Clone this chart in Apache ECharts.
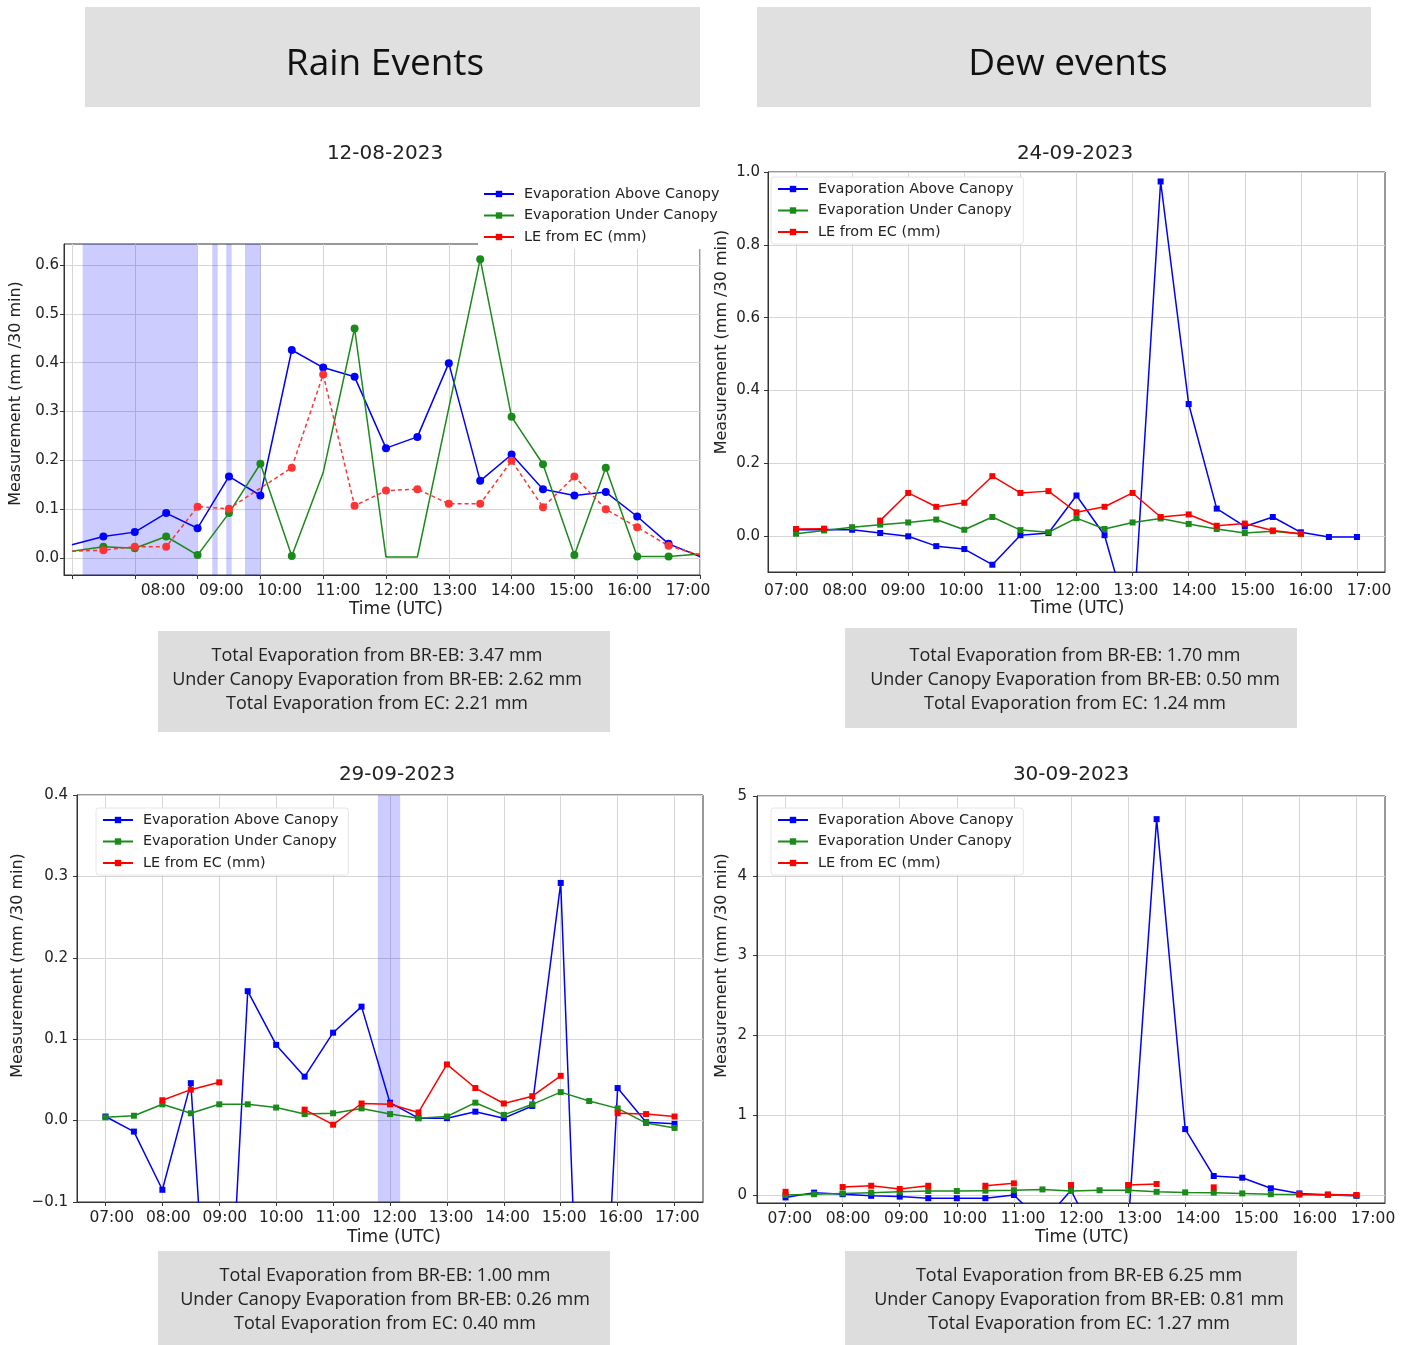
<!DOCTYPE html>
<html><head><meta charset="utf-8">
<script src="https://cdn.jsdelivr.net/npm/echarts@6/dist/echarts.min.js"></script>
<style>html,body{margin:0;padding:0;background:#fff}#c{width:1410px;height:1345px}</style>
</head><body><div id="c"></div>
<script>
// ---------- DATA ----------
const times = ['07:00','07:30','08:00','08:30','09:00','09:30','10:00','10:30','11:00','11:30','12:00','12:30','13:00','13:30','14:00','14:30','15:00','15:30','16:00','16:30','17:00'];
const seriesNames = ['Evaporation Above Canopy','Evaporation Under Canopy','LE from EC (mm)'];

// 12-08-2023 (rain)
const rainAbove = [0.027,0.044,0.053,0.092,0.061,0.167,0.128,0.426,0.390,0.371,0.225,0.248,0.399,0.158,0.212,0.141,0.128,0.135,0.085,0.029,0.003];
const rainUnder = [0.014,0.023,0.020,0.044,0.006,0.092,0.193,0.004,0.175,0.470,0.002,0.002,null,0.612,0.289,0.192,0.006,0.185,0.003,0.003,0.008];
const rainEC    = [0.014,0.016,0.023,0.023,0.105,0.101,null,0.185,0.376,0.107,0.138,0.141,0.111,0.111,0.199,0.104,0.167,0.100,0.063,0.025,0.006];
const rainAboveNoMark = [0,20];
const rainUnderNoMark = [0,8,10,11,20];
const rainECNoMark = [0,20];
const rainPeriods1 = [[7.17,8.995],[9.234,9.32],[9.457,9.543],[9.755,10.005]];

// 24-09-2023 (dew)
const dew1Above = [0.018,0.019,0.018,0.009,0.000,-0.027,-0.035,-0.078,0.003,0.009,0.112,0.003,-0.27,0.974,0.363,0.076,0.027,0.053,0.011,-0.002,-0.002];
const dew1Under = [0.007,0.016,0.025,0.032,0.038,0.046,0.018,0.053,0.017,0.011,0.050,0.020,0.038,0.049,0.034,0.020,0.009,0.014,0.006,null,null];
const dew1EC    = [0.020,0.021,null,0.043,0.119,0.081,0.092,0.165,0.119,0.124,0.066,0.081,0.119,0.053,0.060,0.029,0.035,0.016,0.007,null,null];

// 29-09-2023
const dew2Above = [0.005,-0.0135,-0.085,0.046,-0.50,0.159,0.093,0.054,0.108,0.140,0.022,0.003,0.003,0.011,0.003,0.018,0.292,-0.63,0.040,-0.002,-0.004];
const dew2Under = [0.004,0.006,0.020,0.009,0.020,0.020,0.016,0.008,0.009,0.015,0.008,0.003,0.005,0.022,0.007,0.020,0.035,0.024,0.015,-0.003,-0.009];
const dew2EC    = [null,null,0.025,0.038,0.047,null,null,0.0135,-0.005,0.021,0.020,0.010,0.069,0.040,0.021,0.030,0.055,null,0.009,0.008,0.005];
const rainPeriods2 = [[11.786,12.179]];

// 30-09-2023
const dew3Above = [-0.03,0.03,0.01,-0.01,-0.02,-0.04,-0.04,-0.04,0.0,-0.35,0.06,-0.65,-0.40,4.71,0.826,0.238,0.217,0.084,0.02,0.0,-0.01];
const dew3Under = [0.0,0.01,0.02,0.03,0.04,0.05,0.05,0.055,0.06,0.07,0.05,0.06,0.06,0.04,0.033,0.03,0.02,0.01,0.008,0.0,-0.005];
const dew3EC    = [0.04,null,0.10,0.116,0.075,0.116,null,0.116,0.146,null,0.125,null,0.125,0.138,null,0.096,null,null,0.008,0.008,0.0];

// tick labels
const xTickTimes = ['07:00','08:00','09:00','10:00','11:00','12:00','13:00','14:00','15:00','16:00','17:00'];
const xLabelsRain = ['08:00','09:00','10:00','11:00','12:00','13:00','14:00','15:00','16:00','17:00'];
const xLabelsDew = ['07:00','08:00','09:00','10:00','11:00','12:00','13:00','14:00','15:00','16:00','17:00'];
const yTicks1 = [0,0.1,0.2,0.3,0.4,0.5,0.6];
const yTicks2 = [0,0.2,0.4,0.6,0.8,1.0];
const yTicks3 = [-0.1,0,0.1,0.2,0.3,0.4];
const yTicks4 = [0,1,2,3,4,5];

const chartTitles = ['12-08-2023','24-09-2023','29-09-2023','30-09-2023'];
const headers = ['Rain Events','Dew events'];
const summary1 = ['Total Evaporation from BR-EB: 3.47 mm','Under Canopy Evaporation from BR-EB: 2.62 mm','Total Evaporation from EC: 2.21 mm'];
const summary2 = ['Total Evaporation from BR-EB: 1.70 mm','Under Canopy Evaporation from BR-EB: 0.50 mm','Total Evaporation from EC: 1.24 mm'];
const summary3 = ['Total Evaporation from BR-EB: 1.00 mm','Under Canopy Evaporation from BR-EB: 0.26 mm','Total Evaporation from EC: 0.40 mm'];
const summary4 = ['Total Evaporation from BR-EB 6.25 mm','Under Canopy Evaporation from BR-EB: 0.81 mm','Total Evaporation from EC: 1.27 mm'];

// ---------- HELPERS ----------
const F = '"DejaVu Sans", sans-serif';
const FO = '"Open Sans", sans-serif';
const TXT = '#222';
const toH = s => { const p = s.split(':').map(Number); return p[0] + p[1]/60; };
const hours = times.map(toH);
const fmtH = v => { const h = Math.floor(v + 1e-6), m = Math.round((v - h) * 60); return String(h).padStart(2,'0') + ':' + String(m).padStart(2,'0'); };
const BLUE = '#0000ff', GREEN = '#1a8a1a', RED = '#ff0000', RED1 = '#ff3333';

function mkData(vals, hide) {
  hide = hide || [];
  return times.map((t, i) => {
    const v = vals[i];
    const it = { value: [hours[i], v == null ? '-' : v] };
    if (hide.indexOf(i) >= 0) it.symbol = 'none';
    return it;
  });
}
function mkSeries(name, vals, grid, color, extra) {
  return Object.assign({
    type: 'line', name, xAxisIndex: grid * 2, yAxisIndex: grid,
    data: mkData(vals, extra && extra.hide),
    color, symbol: 'rect', symbolSize: 6, showSymbol: true, showAllSymbol: true,
    lineStyle: { width: 1.5, color }, itemStyle: { color },
    emphasis: { disabled: true }, clip: true, z: 3, animation: false
  }, extra && extra.opt);
}
function shade(grid, periods) {
  return {
    type: 'line', xAxisIndex: grid * 2, yAxisIndex: grid, data: [], silent: true, z: 1,
    markArea: { silent: true, itemStyle: { color: 'rgba(0,0,255,0.2)' },
      data: periods.map(p => [{ xAxis: p[0] }, { xAxis: p[1] }]) }
  };
}
const axisLineStyle = { color: '#333', width: 1 };
const splitStyle = { color: '#d6d6d6', width: 1 };
const hourTicks = xTickTimes.map(toH);

function xPrimary(grid, min, max, gap, shift) {
  return {
    type: 'value', gridIndex: grid, min, max, position: 'bottom',
    name: 'Time (UTC)', nameLocation: 'middle', nameGap: gap,
    nameTextStyle: { fontSize: 17, fontFamily: F, color: TXT, padding: [0, 0, 0, shift * 2] },
    axisLine: { show: true, onZero: false, lineStyle: axisLineStyle },
    axisTick: { show: true, length: 4, customValues: hourTicks, lineStyle: axisLineStyle },
    axisLabel: { show: false, customValues: hourTicks },
    splitLine: { show: true, lineStyle: splitStyle }
  };
}
function xLabelAxis(grid, min, max, labels, margin) {
  return {
    type: 'value', gridIndex: grid, min, max, position: 'bottom', offset: 0,
    axisLine: { show: false, onZero: false }, axisTick: { show: false }, splitLine: { show: false },
    axisLabel: { customValues: labels.map(toH), formatter: v => fmtH(v), fontSize: 15.5, fontFamily: F, color: TXT, margin }
  };
}
function yAx(grid, min, max, ticks, fmt, gap, shift, margin) {
  return {
    type: 'value', gridIndex: grid, min, max,
    name: 'Measurement (mm /30 min)', nameLocation: 'middle', nameGap: gap,
    nameTextStyle: { fontSize: 16, fontFamily: F, color: TXT, padding: [0, 0, 0, shift * 2] },
    axisLine: { show: true, onZero: false, lineStyle: axisLineStyle },
    axisTick: { show: true, length: 4, customValues: ticks, lineStyle: axisLineStyle },
    axisLabel: { customValues: ticks, formatter: fmt, fontSize: 15, fontFamily: F, color: TXT, margin },
    splitLine: { show: true, lineStyle: splitStyle }
  };
}
const fmt1 = v => (v < 0 ? '\u2212' : '') + Math.abs(v).toFixed(1);
const fmt0 = v => String(Math.round(v));

function legend(left, top, padRight, framed) {
  return {
    data: seriesNames, orient: 'vertical', left, top,
    itemWidth: 30, itemHeight: 8, itemGap: 7.5, selectedMode: false,
    textStyle: { fontSize: 14.4, fontFamily: F, color: TXT, padding: [0, 0, 0, 5] },
    backgroundColor: framed ? '#ffffff' : 'transparent', borderColor: '#e6e6e6', borderWidth: framed ? 1 : 0, borderRadius: 3,
    padding: [5, padRight, 5, 6], z: 10
  };
}
function textCenter(text, x, y, font, fill) {
  return { type: 'text', z: 20, silent: true,
    style: { text, x, y, font, fill: fill || TXT, align: 'center', verticalAlign: 'middle', textAlign: 'center', textVerticalAlign: 'middle' } };
}
function rect(x, y, w, h, fill, z) {
  return { type: 'rect', z: z || 15, silent: true, shape: { x, y, width: w, height: h }, style: { fill } };
}
function summaryBox(x, y, w, h, lines, cx, y0) {
  const out = [rect(x, y, w, h, '#dddddd')];
  lines.forEach((l, i) => out.push(textCenter(l, cx, y0 + i * 24, '18px ' + FO)));
  return out;
}

// ---------- OPTION ----------
const gridBase = { show: true, borderColor: '#333', borderWidth: 1, backgroundColor: 'transparent', containLabel: false };
const option = {
  animation: false,
  backgroundColor: '#ffffff',
  grid: [
    Object.assign({ left: 64, top: 244, width: 636, height: 331 }, gridBase),
    Object.assign({ left: 768, top: 172, width: 617, height: 400 }, gridBase),
    Object.assign({ left: 77, top: 795, width: 626, height: 407 }, gridBase),
    Object.assign({ left: 757, top: 796, width: 628, height: 407 }, gridBase)
  ],
  xAxis: [
    xPrimary(0, 6.873, 17.0, 26, 14), xLabelAxis(0, 6.303, 17.206, xLabelsRain, 8),
    xPrimary(1, 6.5, 17.5, 28, 1), xLabelAxis(1, 6.684, 17.275, xLabelsDew, 11),
    xPrimary(2, 6.5, 17.5, 27, 4), xLabelAxis(2, 6.386, 17.455, xLabelsDew, 8),
    xPrimary(3, 6.5, 17.5, 26, 11), xLabelAxis(3, 6.439, 17.206, xLabelsDew, 8)
  ],
  yAxis: [
    yAx(0, -0.0348, 0.643, yTicks1, fmt1, 40, 16, 5),
    yAx(1, -0.098, 1.0, yTicks2, fmt1, 38, 30, 8),
    yAx(2, -0.1, 0.4, yTicks3, fmt1, 51, 33, 9),
    yAx(3, -0.1, 5.0, yTicks4, fmt0, 27, 34, 10)
  ],
  legend: [legend(477, 182, 1, false), legend(771, 177, 10, true), legend(96, 808, 10, true), legend(771, 808, 10, true)],
  series: [
    mkSeries(seriesNames[0], dew1Above, 1, BLUE),
    mkSeries(seriesNames[1], dew1Under, 1, GREEN),
    mkSeries(seriesNames[2], dew1EC, 1, RED),
    shade(2, rainPeriods2),
    mkSeries(seriesNames[0], dew2Above, 2, BLUE),
    mkSeries(seriesNames[1], dew2Under, 2, GREEN),
    mkSeries(seriesNames[2], dew2EC, 2, RED),
    mkSeries(seriesNames[0], dew3Above, 3, BLUE),
    mkSeries(seriesNames[1], dew3Under, 3, GREEN),
    mkSeries(seriesNames[2], dew3EC, 3, RED),
    shade(0, rainPeriods1),
    mkSeries(seriesNames[0], rainAbove, 0, BLUE, { hide: rainAboveNoMark, opt: { symbol: 'circle', symbolSize: 8 } }),
    mkSeries(seriesNames[1], rainUnder, 0, GREEN, { hide: rainUnderNoMark, opt: { symbol: 'circle', symbolSize: 8, connectNulls: true } }),
    mkSeries(seriesNames[2], rainEC, 0, RED1, { hide: rainECNoMark, opt: { symbol: 'circle', symbolSize: 8, connectNulls: true, lineStyle: { width: 1.5, color: RED1, type: [4, 3] } } })
  ],
  graphic: [
    rect(478, 181, 224, 68, '#ffffff', 5),
    rect(85, 7, 615, 100, '#e0e0e0'),
    rect(757, 7, 614, 100, '#e0e0e0'),
    textCenter(headers[0], 385, 64, '37px ' + FO, '#111'),
    textCenter(headers[1], 1068, 64, '37px ' + FO, '#111'),
    textCenter(chartTitles[0], 385, 154, '20px ' + F),
    textCenter(chartTitles[1], 1075, 154, '20px ' + F),
    textCenter(chartTitles[2], 397, 775, '20px ' + F),
    textCenter(chartTitles[3], 1071, 775, '20px ' + F)
  ].concat(
    summaryBox(158, 631, 452, 101, summary1, 377, 656),
    summaryBox(845, 628, 452, 100, summary2, 1075, 656),
    summaryBox(158, 1251, 452, 94, summary3, 385, 1276),
    summaryBox(845, 1251, 452, 94, summary4, 1079, 1276)
  )
};
const chart = echarts.init(document.getElementById('c'), null, { renderer: 'canvas' });
chart.setOption(option);
</script></body></html>
